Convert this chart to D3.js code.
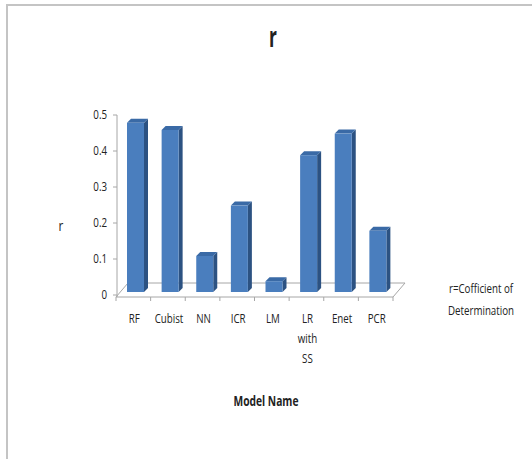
<!DOCTYPE html>
<html>
<head>
<meta charset="utf-8">
<script src="https://cdn.jsdelivr.net/npm/d3@7"></script>
<style>
  html, body { margin: 0; padding: 0; background: #fff; }
  svg { display: block; }
  text { font-family: "Open Sans", sans-serif; fill: #222; }
</style>
</head>
<body>
<svg id="chart" width="532" height="459"></svg>
<script>
// Coefficient of determination per model
const models = ["RF", "Cubist", "NN", "ICR", "LM", "LR\nwith\nSS", "Enet", "PCR"];
const rValues = [0.47, 0.45, 0.10, 0.24, 0.03, 0.38, 0.44, 0.17];
const yTicks = [0, 0.1, 0.2, 0.3, 0.4, 0.5];

const svg = d3.select("#chart");

// condensed text helper: positions a text element and narrows its glyphs
function label(parent, px, py, lines, opts) {
  const o = Object.assign({ size: 12.5, weight: "normal", anchor: "middle", squeeze: 0.78, lineH: 20, dy: "0" }, opts);
  const t = parent.append("text")
    .attr("transform", `translate(${px},${py}) scale(${o.squeeze},1)`)
    .attr("text-anchor", o.anchor)
    .attr("font-size", o.size)
    .attr("font-weight", o.weight)
    .attr("dy", o.dy);
  [].concat(lines).forEach((line, i) => {
    t.append("tspan").attr("x", 0).attr("dy", i === 0 ? o.dy : o.lineH).text(line);
  });
  return t;
}

// outer chart frame (left and top edges visible)
svg.append("path")
  .attr("d", "M7,459 V5 H532")
  .attr("fill", "none")
  .attr("stroke", "#c4c4c4")
  .attr("stroke-width", 2);

const x = d3.scaleBand().domain(models).range([116, 393]).padding(0);
const y = d3.scaleLinear().domain([0, 0.5]).range([295, 115]);

// 3D depth offsets
const depthX = 4, depthY = -4;   // bar side/top depth
const floorX = 12, floorY = -14; // floor depth
const lift = 3;                  // bar base sits slightly behind floor front edge

// floor
const f0 = x.range()[0], f1 = x.range()[1], fy = y(0) + 2;
svg.append("path")
  .attr("d", `M${f0},${fy} L${f0 + floorX},${fy + floorY} L${f1 + floorX},${fy + floorY} L${f1},${fy} Z`)
  .attr("fill", "none")
  .attr("stroke", "#a6a6a6")
  .attr("stroke-width", 1);

// category ticks under the floor front edge
svg.append("g").selectAll("line")
  .data(models.map(m => x(m)).concat([f1]))
  .join("line")
  .attr("x1", d => d).attr("x2", d => d)
  .attr("y1", fy).attr("y2", fy + 4)
  .attr("stroke", "#a6a6a6");

// value axis
svg.append("line")
  .attr("x1", 117).attr("x2", 117)
  .attr("y1", y(0.5)).attr("y2", fy)
  .attr("stroke", "#a6a6a6");
const yAxis = svg.append("g");
yAxis.selectAll("line")
  .data(yTicks).join("line")
  .attr("x1", 113).attr("x2", 117)
  .attr("y1", d => y(d)).attr("y2", d => y(d))
  .attr("stroke", "#a6a6a6");
yTicks.forEach(d => {
  label(yAxis, 107, y(d), d === 0 ? "0" : d3.format(".1f")(d), { anchor: "end", dy: "0.35em" });
});

// bars
const barW = 17, barOff = 11;
const bars = svg.append("g").selectAll("g")
  .data(models.map((m, i) => ({ m, v: rValues[i] })))
  .join("g");
bars.each(function (d) {
  const g = d3.select(this);
  const x0 = x(d.m) + barOff, x1 = x0 + barW;
  const yb = y(0) - lift, yt = y(d.v) - lift;
  // side face
  g.append("path")
    .attr("d", `M${x1},${yb} L${x1 + depthX},${yb + depthY} L${x1 + depthX},${yt + depthY} L${x1},${yt} Z`)
    .attr("fill", "#2c5282");
  // top face
  g.append("path")
    .attr("d", `M${x0},${yt} L${x0 + depthX},${yt + depthY} L${x1 + depthX},${yt + depthY} L${x1},${yt} Z`)
    .attr("fill", "#3a6aa6");
  // front face
  g.append("rect")
    .attr("x", x0).attr("y", yt)
    .attr("width", barW).attr("height", yb - yt)
    .attr("fill", "#4a7ebe");
});

// category labels (multi-line)
const cats = svg.append("g");
models.forEach(m => {
  label(cats, x(m) + x.bandwidth() / 2 + 1, 323, m.split("\n"));
});

// titles
label(svg, 273, 47, "r", { size: 28, weight: "bold", squeeze: 0.62 });
label(svg, 61, 231, "r", { size: 15 });
label(svg, 266, 406, "Model Name", { size: 13.5, weight: "bold", squeeze: 0.76 });

// legend note
label(svg, 481, 293, ["r=Cofficient of", "Determination"], { size: 12.5, lineH: 22 });
</script>
</body>
</html>
